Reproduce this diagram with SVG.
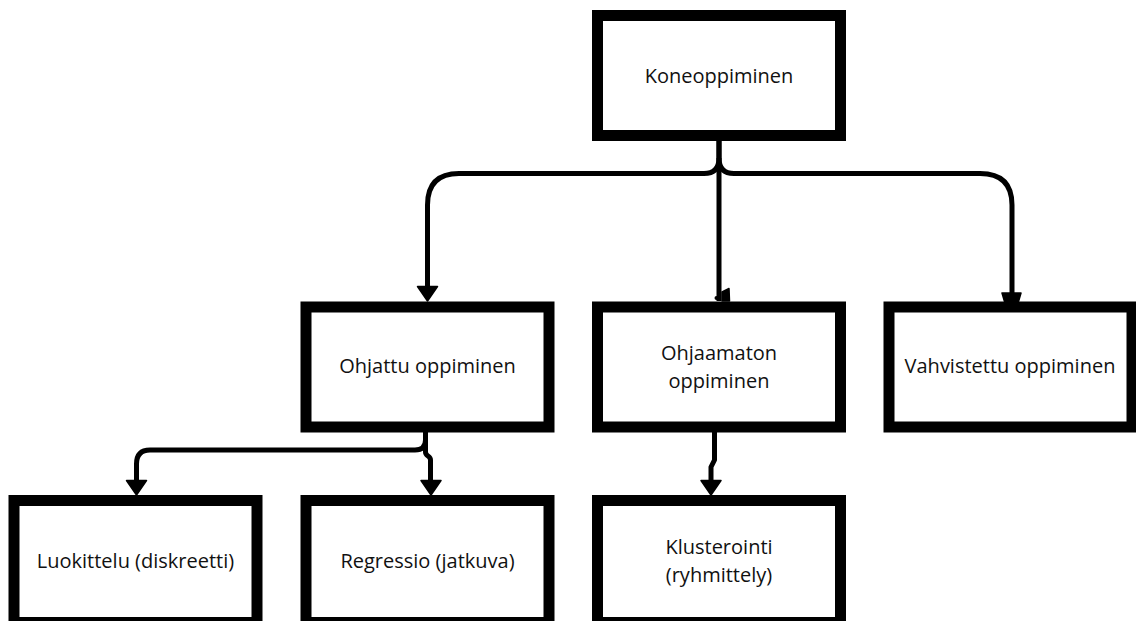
<svg xmlns="http://www.w3.org/2000/svg" width="1136" height="621" viewBox="0 0 1136 621">
<style>
.box{fill:#fff;stroke:#000;stroke-width:11}
.lbl{font-family:"Open Sans","Noto Sans",sans-serif;font-size:20px;fill:#111;text-anchor:middle}
.edge{fill:none;stroke:#000;stroke-width:5;stroke-linejoin:round}
.head{fill:#000;stroke:#000;stroke-width:1.5;stroke-linejoin:round}
</style>
<rect width="1136" height="621" fill="#fff"/>
<g id="connectors">
<path class="edge" d="M719,141 L719,158 Q719,173.5 704,173.5 L459,173.5 Q427.5,173.5 427.5,205 L427.5,287"/>
<polygon class="head" points="417.5,286.5 437.5,286.5 427.5,301"/>
<path class="edge" d="M719,141 L719,301"/>
<path class="head" d="M722,292 L729,288.5 L729.5,301 L722,301 Z"/>
<circle cx="716.5" cy="298" r="2" fill="#000"/>
<path class="edge" d="M719,158 Q719,173.5 734,173.5 L980,173.5 Q1012,173.5 1012,205 L1012,293"/>
<path class="head" d="M1002,293 L1021,293 L1018.5,301.5 L1004.5,301.5 Z"/>
<path class="edge" d="M425.5,432 L425.5,440 Q425.5,450 415,450 L150,450 Q136.5,450 136.5,464 L136.5,481"/>
<polygon class="head" points="126.5,480.5 146.5,480.5 136.5,495"/>
<path class="edge" d="M425.5,432 L425.5,452 C425.5,456.5 430.5,455.5 430.5,460 L430.5,481"/>
<polygon class="head" points="421,480.5 441,480.5 431,495"/>
<path class="edge" d="M714.5,432 L714.5,460 L711,467 L711,481"/>
<polygon class="head" points="701,480.5 721,480.5 711,495"/>
</g>
<g id="node-koneoppiminen">
<rect class="box" x="597.5" y="15.5" width="243" height="120"/>
<text class="lbl" x="719" y="83">Koneoppiminen</text>
</g>
<g id="node-ohjattu">
<rect class="box" x="306" y="307" width="243" height="120"/>
<text class="lbl" x="427.5" y="373">Ohjattu oppiminen</text>
</g>
<g id="node-ohjaamaton">
<rect class="box" x="597.5" y="307" width="243" height="120"/>
<text class="lbl" x="719" y="360">Ohjaamaton</text>
<text class="lbl" x="719" y="388">oppiminen</text>
</g>
<g id="node-vahvistettu">
<rect class="box" x="889" y="307" width="243" height="120"/>
<text class="lbl" x="1010" y="373">Vahvistettu oppiminen</text>
</g>
<g id="node-luokittelu">
<rect class="box" x="14" y="500.5" width="243" height="122"/>
<text class="lbl" x="135.5" y="568">Luokittelu (diskreetti)</text>
</g>
<g id="node-regressio">
<rect class="box" x="306" y="500.5" width="243" height="122"/>
<text class="lbl" x="427.5" y="568">Regressio (jatkuva)</text>
</g>
<g id="node-klusterointi">
<rect class="box" x="597.5" y="500.5" width="243" height="122"/>
<text class="lbl" x="719" y="554">Klusterointi</text>
<text class="lbl" x="719" y="582">(ryhmittely)</text>
</g>
</svg>
